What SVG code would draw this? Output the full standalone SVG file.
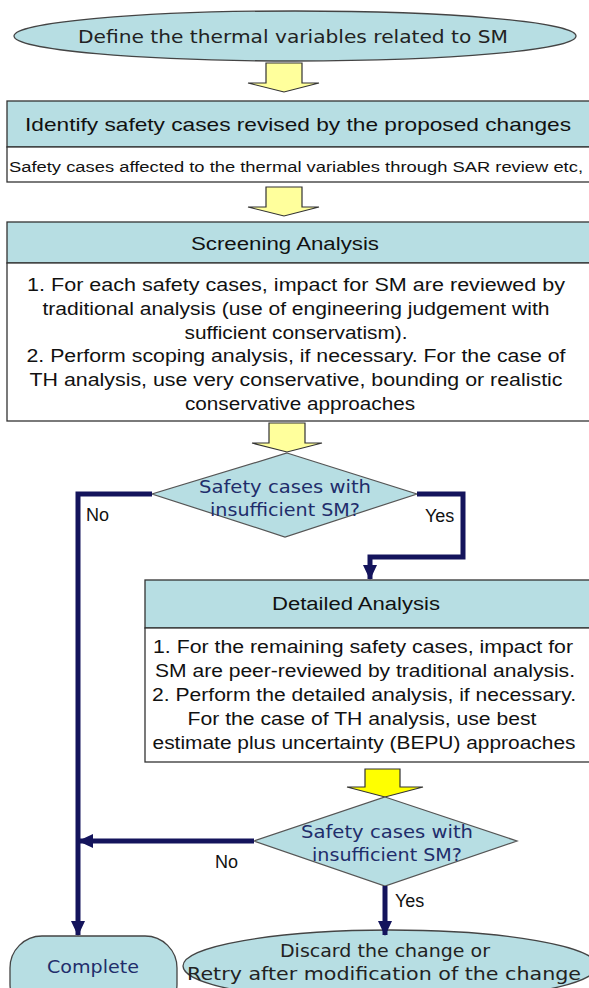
<svg xmlns="http://www.w3.org/2000/svg" width="589" height="988" viewBox="0 0 589 988">
<style>
.term{fill:#b7dee3;stroke:#444;stroke-width:1.3}
.hdr{fill:#b7dee3;stroke:#333;stroke-width:1.3}
.body{fill:#fff;stroke:#333;stroke-width:1.3}
.dia{fill:#b7dee3;stroke:#555;stroke-width:1.2}
.ya{fill:#ffff9c;stroke:#333;stroke-width:1.2}
.yb{fill:#ffff00;stroke:#333;stroke-width:1.2}
.t{font-family:"Liberation Sans",Arial,sans-serif;fill:#111;text-anchor:middle}
.v{font-family:"DejaVu Sans",Verdana,sans-serif;text-anchor:middle}
.navy{fill:#1f2d6b}
.lbl{font-family:"Liberation Sans",Arial,sans-serif;font-size:18px;fill:#111}
.conn{fill:none;stroke:#14145c;stroke-width:5}
</style>
<defs>
<marker id="ah" markerUnits="userSpaceOnUse" markerWidth="16" markerHeight="16" viewBox="0 0 16 16" refX="14" refY="8" orient="auto">
<path d="M0,1 L15,8 L0,15 Z" fill="#14145c"/>
</marker>
</defs>

<g id="n-define">
<ellipse class="term" cx="295" cy="36" rx="281" ry="25"/>
<text class="v" x="293" y="43" font-size="18" fill="#222" textLength="430" lengthAdjust="spacingAndGlyphs">Define the thermal variables related to SM</text>
</g>

<g id="a1"><path class="ya" d="M266,63 H302 V83 H319 L284,92 L248,83 H266 Z"/></g>

<g id="n-identify">
<rect class="hdr" x="7" y="101" width="584" height="46"/>
<rect class="body" x="7" y="147" width="584" height="35"/>
<text class="t" x="298" y="131" font-size="19" textLength="546" lengthAdjust="spacingAndGlyphs">Identify safety cases revised by the proposed changes</text>
<text class="t" x="296" y="172" font-size="14" textLength="574" lengthAdjust="spacingAndGlyphs">Safety cases affected to the thermal variables through SAR review etc,</text>
</g>

<g id="a2"><path class="ya" d="M266,187 H302 V207 H319 L284,216 L248,207 H266 Z"/></g>

<g id="n-screening">
<rect class="hdr" x="7" y="222" width="584" height="41"/>
<rect class="body" x="7" y="263" width="584" height="158"/>
<text class="t" x="285" y="250" font-size="18" textLength="188" lengthAdjust="spacingAndGlyphs">Screening Analysis</text>
<text class="t" x="296" y="291" font-size="17.5" textLength="538" lengthAdjust="spacingAndGlyphs">1. For each safety cases, impact for SM are reviewed by</text>
<text class="t" x="296" y="315" font-size="17.5" textLength="507" lengthAdjust="spacingAndGlyphs">traditional analysis (use of engineering judgement with</text>
<text class="t" x="296" y="339" font-size="17.5" textLength="223" lengthAdjust="spacingAndGlyphs">sufficient conservatism).</text>
<text class="t" x="296" y="362" font-size="17.5" textLength="539" lengthAdjust="spacingAndGlyphs">2. Perform scoping analysis, if necessary. For the case of</text>
<text class="t" x="296" y="386" font-size="17.5" textLength="533" lengthAdjust="spacingAndGlyphs">TH analysis, use very conservative, bounding or realistic</text>
<text class="t" x="300" y="410" font-size="17.5" textLength="230" lengthAdjust="spacingAndGlyphs">conservative approaches</text>
</g>

<g id="a3"><path class="ya" d="M269,423 H305 V443 H322 L287,452 L252,443 H269 Z"/></g>

<g id="n-dec1">
<polygon class="dia" points="287,453 417,494 285,537 152,494"/>
<text class="v navy" x="285" y="493" font-size="17.5" textLength="172" lengthAdjust="spacingAndGlyphs">Safety cases with</text>
<text class="v navy" x="285" y="516" font-size="17.5" textLength="150" lengthAdjust="spacingAndGlyphs">insufficient SM?</text>
</g>

<g id="n-detailed">
<rect class="hdr" x="145" y="580" width="446" height="48"/>
<rect class="body" x="145" y="628" width="446" height="134"/>
<text class="t" x="356" y="610" font-size="18" textLength="168" lengthAdjust="spacingAndGlyphs">Detailed Analysis</text>
<text class="t" x="363" y="653" font-size="17.5" textLength="420" lengthAdjust="spacingAndGlyphs">1. For the remaining safety cases, impact for</text>
<text class="t" x="365" y="677" font-size="17.5" textLength="420" lengthAdjust="spacingAndGlyphs">SM are peer-reviewed by traditional analysis.</text>
<text class="t" x="364" y="701" font-size="17.5" textLength="424" lengthAdjust="spacingAndGlyphs">2. Perform the detailed analysis, if necessary.</text>
<text class="t" x="362" y="725" font-size="17.5" textLength="349" lengthAdjust="spacingAndGlyphs">For the case of TH analysis, use best</text>
<text class="t" x="364" y="749" font-size="17.5" textLength="423" lengthAdjust="spacingAndGlyphs">estimate plus uncertainty (BEPU) approaches</text>
</g>

<g id="a4"><path class="yb" d="M365,769 H400 V787 H423 L385,797 L347,787 H365 Z"/></g>

<g id="n-dec2">
<polygon class="dia" points="385,797 517,841 385,886 254,841"/>
<text class="v navy" x="387" y="838" font-size="17.5" textLength="172" lengthAdjust="spacingAndGlyphs">Safety cases with</text>
<text class="v navy" x="387" y="861" font-size="17.5" textLength="150" lengthAdjust="spacingAndGlyphs">insufficient SM?</text>
</g>

<g id="n-complete">
<rect class="term" x="10" y="936" width="167" height="80" rx="32" ry="32"/>
<text class="v navy" x="93" y="973" font-size="18" textLength="92" lengthAdjust="spacingAndGlyphs">Complete</text>
</g>

<g id="n-discard">
<ellipse class="term" cx="390" cy="966" rx="207" ry="36"/>
<text class="v" x="385" y="957" font-size="18" fill="#222" textLength="210" lengthAdjust="spacingAndGlyphs">Discard the change or</text>
<text class="v" x="384" y="980" font-size="18" fill="#222" textLength="394" lengthAdjust="spacingAndGlyphs">Retry after modification of the change</text>
</g>

<g id="connectors">
<path class="conn" d="M152,494 H78 V935" marker-end="url(#ah)"/>
<path class="conn" d="M417,494 H463 V557 H370 V579" marker-end="url(#ah)"/>
<path class="conn" d="M254,841 H79" marker-end="url(#ah)"/>
<path class="conn" d="M385,886 V935" marker-end="url(#ah)"/>
<text class="lbl" x="86" y="521">No</text>
<text class="lbl" x="425" y="522">Yes</text>
<text class="lbl" x="215" y="868">No</text>
<text class="lbl" x="395" y="907">Yes</text>
</g>
</svg>
